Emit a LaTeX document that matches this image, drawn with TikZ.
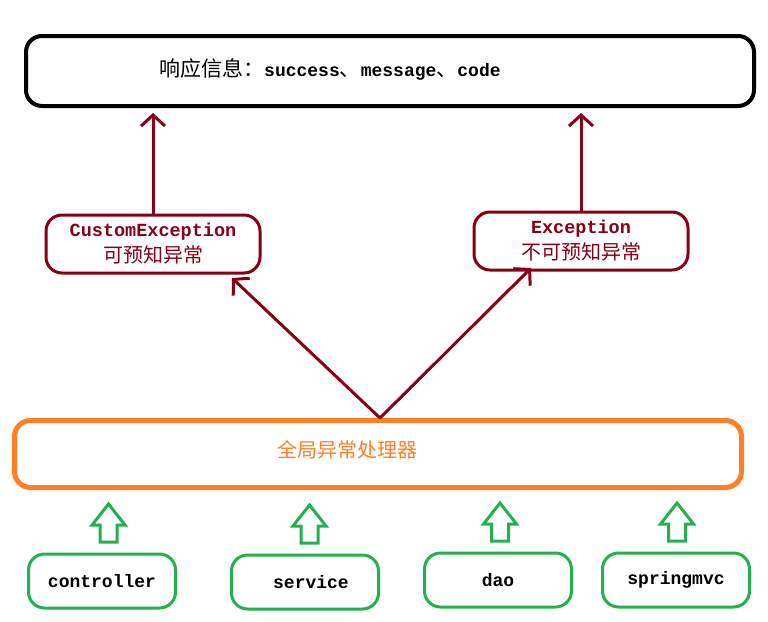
\documentclass[tikz,border=0pt]{standalone}
\usepackage{fontspec}
\setmainfont{Liberation Mono}
\newfontfamily\cjkfam{Noto Sans CJK SC}
\newcommand{\cjk}{\cjkfam\mdseries}
\usetikzlibrary{arrows.meta,calc}
\definecolor{dred}{HTML}{880015}
\definecolor{orng}{HTML}{FF7F27}
\definecolor{grn}{HTML}{22B14C}
\begin{document}
\begin{tikzpicture}[x=1pt,y=-1pt,
  box/.style={draw,rounded corners=16pt,inner sep=0pt},
  topbox/.style={box,black,line width=4pt,minimum width=728pt,minimum height=70pt},
  redbox/.style={box,dred,line width=3pt,minimum width=214pt,minimum height=58pt,text=dred,align=center,font=\bfseries\fontsize{18.5}{26}\selectfont},
  orbox/.style={box,orng,line width=5pt,minimum width=727pt,minimum height=67pt},
  grbox/.style={box,grn,line width=3pt,minimum width=147pt,minimum height=54pt,text=black,font=\bfseries\fontsize{18}{20}\selectfont},
  redarrow/.style={dred,line width=3pt,-{Straight Barb[length=11pt,width=24pt,line width=3pt]}},
  txt/.style={inner sep=0pt,font=\bfseries\fontsize{18}{20}\selectfont},
  hollowup/.pic={\draw[grn,line width=3pt,line join=miter] (-8.5,38)--(-8.5,21)--(-16.5,21)--(0,0)--(16.5,21)--(8.5,21)--(8.5,38)--cycle;}
]
\useasboundingbox (0,0) rectangle (768,621);
% top box
\node[topbox] (top) at (390,71) {};
\node[txt,anchor=west] (toptext) at (159,69) {{\cjk\fontsize{21}{20}\selectfont 响应信息：}success{\cjk\fontsize{21}{20}\selectfont 、}message{\cjk\fontsize{21}{20}\selectfont 、}code};
% exception boxes
\node[redbox] (ce) at (153,244) {CustomException\\{\cjk\fontsize{20}{20}\selectfont 可预知异常}};
\node[redbox] (ex) at (581,241) {Exception\\{\cjk\fontsize{20}{20}\selectfont 不可预知异常}};
% global handler
\node[orbox] (glob) at (378,454) {};
\node[txt,text=orng] (globtext) at (347,450) {\cjk\fontsize{20}{20}\selectfont 全局异常处理器};
% sources
\node[grbox] (ctrl) at (102,581) {controller};
\node[grbox] (svc) at (305,582) {\hspace*{12pt}service};
\node[grbox] (dao) at (498,580) {dao};
\node[grbox] (mvc) at (676,580) {springmvc};
% arrows
\draw[redarrow] (ce.north) -- ($(top.south)!(ce.north)!(top.south east)+(0,5)$);
\draw[redarrow] (ex.north) -- ($(top.south)!(ex.north)!(top.south east)+(0,5)$);
\coordinate (src) at (380,418);
\draw[redarrow] (src) -- (232,278);
\draw[redarrow] (src) -- (531,268);
\pic at (108.5,504) {hollowup};
\pic at (309.5,505) {hollowup};
\pic at (500,503) {hollowup};
\pic at (677,503) {hollowup};
\end{tikzpicture}
\end{document}
